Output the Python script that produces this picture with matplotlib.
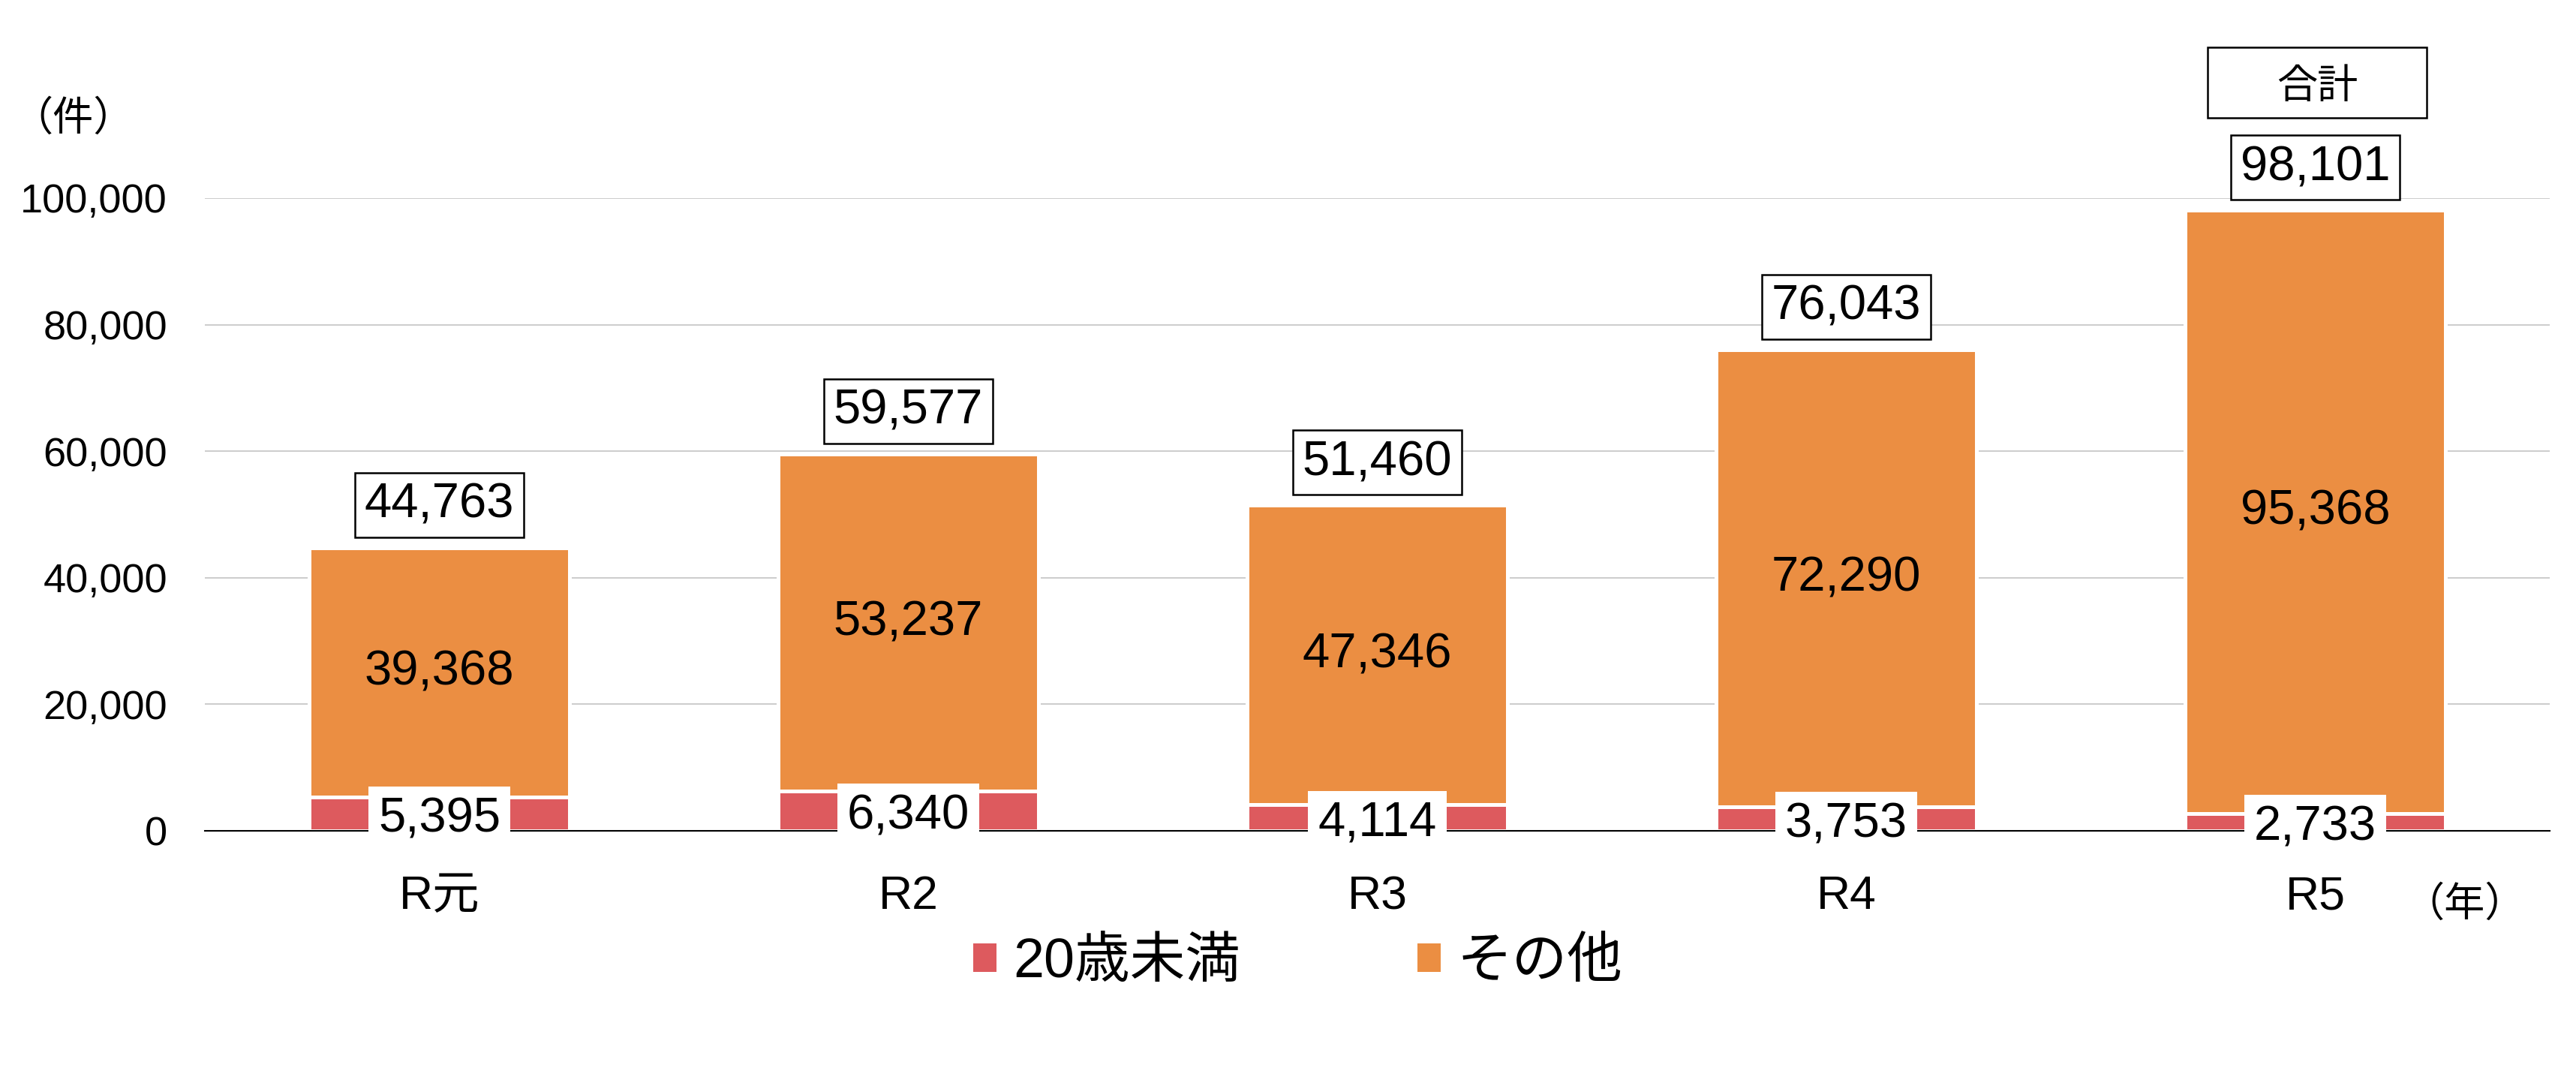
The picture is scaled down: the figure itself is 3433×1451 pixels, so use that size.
import matplotlib
matplotlib.use("Agg")
import matplotlib.pyplot as plt
from matplotlib.patches import Patch, Rectangle
from matplotlib.ticker import FuncFormatter

plt.rcParams['font.family'] = ['Liberation Sans', 'Noto Sans CJK JP', 'DejaVu Sans']

# ---- data ----
categories = ['R元', 'R2', 'R3', 'R4', 'R5']
under20 = [5395, 6340, 4114, 3753, 2733]
others = [39368, 53237, 47346, 72290, 95368]
totals = [44763, 59577, 51460, 76043, 98101]
series_names = ['20歳未満', 'その他']
yticks = [0, 20000, 40000, 60000, 80000, 100000]

RED = '#DD5A5E'
ORANGE = '#EB8E42'

W, H = 3433, 1451
fig = plt.figure(figsize=(W / 100, H / 100), dpi=100)
ax = fig.add_axes([273 / W, (H - 1107) / H, 3125 / W, (1107 - 264) / H])

x = list(range(len(categories)))
bw = 0.555
ax.bar(x, under20, bw, color=RED, edgecolor='white', linewidth=3.6, zorder=2)
ax.bar(x, others, bw, bottom=under20, color=ORANGE, edgecolor='white',
       linewidth=3.6, zorder=2)

ax.set_xlim(-0.5, len(categories) - 0.5)
ax.set_ylim(0, 100000)
ax.set_yticks(yticks)
ax.yaxis.set_major_formatter(FuncFormatter(lambda v, p: f'{int(v):,}'))
ax.grid(axis='y', color='#BFBFBF', linewidth=1.1, zorder=0)
ax.set_axisbelow(True)
for s in ['top', 'right', 'left']:
    ax.spines[s].set_visible(False)
ax.spines['bottom'].set_color('black')
ax.spines['bottom'].set_linewidth(1.5)
ax.spines['bottom'].set_zorder(3)
ax.tick_params(axis='y', length=0, labelsize=39, pad=36)
ax.tick_params(axis='x', length=0, labelsize=45, pad=42)
ax.set_xticks(x)
ax.set_xticklabels(categories)

# labels
for i in x:
    # orange segment value
    ax.text(i, under20[i] + others[i] / 2, f'{others[i]:,}', ha='center', va='center',
            fontsize=47, zorder=5)
    # red segment value with white box
    ax.annotate(f'{under20[i]:,}', xy=(i, under20[i] / 2), xytext=(0, -7),
                textcoords='offset pixels', ha='center', va='center', fontsize=47,
                zorder=6, annotation_clip=False,
                bbox=dict(boxstyle='square,pad=0.2', facecolor='white', edgecolor='none'))
    # total with frame
    ax.annotate(f'{totals[i]:,}', xy=(i, totals[i]), xytext=(0, 27),
                textcoords='offset pixels', ha='center', va='bottom', fontsize=47,
                zorder=6, annotation_clip=False,
                bbox=dict(boxstyle='square,pad=0.2', facecolor='white', edgecolor='black',
                          linewidth=1.8))

# 合計 box
fig.add_artist(Rectangle((2942 / W, 1 - 157 / H), 292 / W, 94 / H, transform=fig.transFigure,
                         facecolor='white', edgecolor='black', linewidth=1.8))
fig.text(3088 / W, 1 - 117 / H, '合計', ha='center', va='center', fontsize=39)

# unit labels
fig.text(98 / W, 1 - 159 / H, '（件）', ha='center', va='center', fontsize=39)
fig.text(3285 / W, 1 - 1206 / H, '（年）', ha='center', va='center', fontsize=39)

# legend
handles = [Patch(facecolor=RED, edgecolor='none'), Patch(facecolor=ORANGE, edgecolor='none')]
fig.legend(handles, series_names, loc='center', bbox_to_anchor=(1730 / W, 1 - 1283 / H),
           ncol=2, frameon=False, fontsize=53, handlelength=0.42, handleheight=0.42,
           handletextpad=0.3, columnspacing=3.2, borderpad=0, borderaxespad=0)

fig.savefig('out.png', dpi=100, facecolor='white')
